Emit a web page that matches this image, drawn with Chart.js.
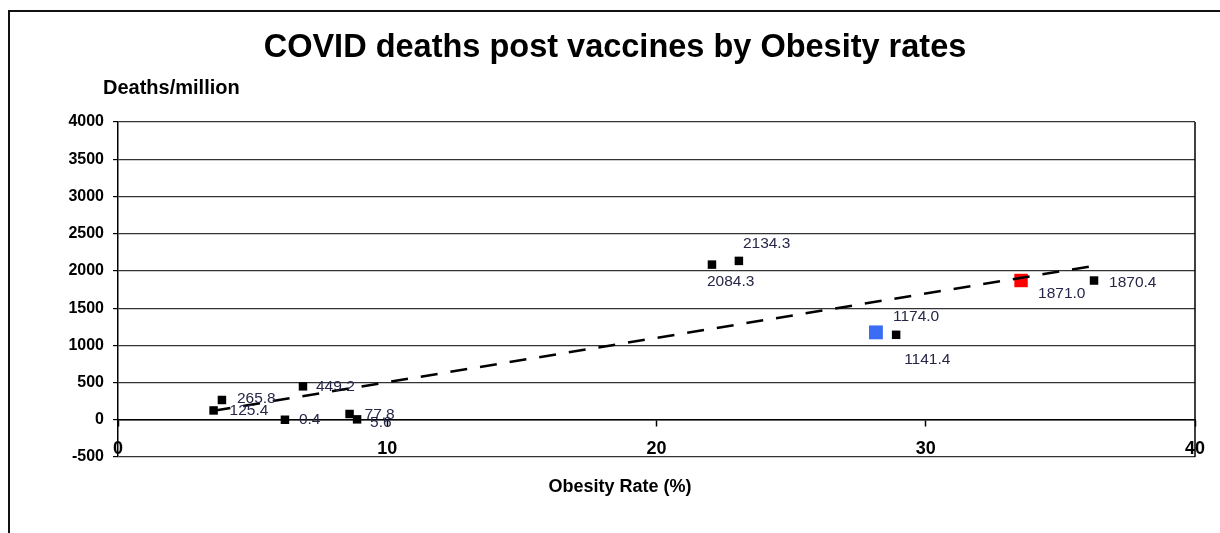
<!DOCTYPE html>
<html>
<head>
<meta charset="utf-8">
<script src="https://cdn.jsdelivr.net/npm/chart.js@4.4.1/dist/chart.umd.min.js"></script>
<style>
  html, body { margin: 0; padding: 0; background: #fff; }
  #c { display: block; }
</style>
</head>
<body>
<canvas id="c" width="1220" height="533" style="width:1220px;height:533px"></canvas>
<script>
// ---- data ----
const obesityRates = [3.55, 3.86, 6.2, 6.87, 8.6, 8.88, 22.06, 23.06, 28.9, 36.25];
const deathsPerMillion = [125.4, 265.8, 0.4, 449.2, 77.8, 5.6, 2084.3, 2134.3, 1141.4, 1870.4];
const blueObesity = [28.15];
const blueDeaths = [1174.0];
const redObesity = [33.54];
const redDeaths = [1871.0];
const trendObesity = [3.55, 36.25];
const trendDeaths = [120, 2068];
const xTickValues = [0, 10, 20, 30, 40];
const yTickValues = [-500, 0, 500, 1000, 1500, 2000, 2500, 3000, 3500, 4000];

const titleText = 'COVID deaths post vaccines by Obesity rates';
const yTitleText = 'Deaths/million';
const xTitleText = 'Obesity Rate (%)';

// label placement (style, kept apart from the data)
const mainLabelOffsets = [[16,0],[15,-1],[14,0],[13,0],[15,1],[13,3],[-5,17],[4,-17],[8,25],[15,2]];
const blueLabelOffsets = [[17,-16]];
const redLabelOffsets = [[17,13]];

const FONT = '"Liberation Sans", Arial, sans-serif';

const toPts = (xs, ys) => xs.map((x, i) => ({ x: x, y: ys[i] }));

const framePlugin = {
  id: 'frame',
  beforeDraw(chart) {
    const ctx = chart.ctx;
    ctx.save();
    ctx.fillStyle = '#fff';
    ctx.fillRect(0, 0, chart.width, chart.height);
    ctx.strokeStyle = '#111';
    ctx.lineWidth = 2;
    ctx.beginPath();
    ctx.moveTo(9, chart.height);
    ctx.lineTo(9, 11);
    ctx.lineTo(chart.width, 11);
    ctx.stroke();
    ctx.restore();
  },
  afterDraw(chart) {
    const ctx = chart.ctx;
    const a = chart.chartArea;
    ctx.save();
    ctx.strokeStyle = '#000';
    ctx.lineWidth = 1.5;
    ctx.beginPath();
    ctx.moveTo(a.right, a.top);
    ctx.lineTo(a.right, a.bottom);
    ctx.stroke();
    ctx.fillStyle = '#000';
    ctx.textBaseline = 'middle';
    ctx.textAlign = 'center';
    ctx.font = 'bold 32.5px ' + FONT;
    ctx.fillText(titleText, 615, 48);
    ctx.textAlign = 'left';
    ctx.font = 'bold 20px ' + FONT;
    ctx.fillText(yTitleText, 103, 88);
    ctx.textAlign = 'center';
    ctx.font = 'bold 18px ' + FONT;
    ctx.fillText(xTitleText, 620, 487);
    ctx.restore();
  }
};

const labelPlugin = {
  id: 'pointLabels',
  afterDatasetsDraw(chart) {
    const ctx = chart.ctx;
    ctx.save();
    ctx.font = '15.5px ' + FONT;
    ctx.fillStyle = '#262648';
    ctx.textAlign = 'left';
    ctx.textBaseline = 'middle';
    chart.data.datasets.forEach((ds, di) => {
      if (!ds.labelOffsets) return;
      const meta = chart.getDatasetMeta(di);
      meta.data.forEach((el, i) => {
        const off = ds.labelOffsets[i] || [14, 0];
        ctx.fillText(ds.data[i].y.toFixed(1), el.x + off[0], el.y + off[1]);
      });
    });
    ctx.restore();
  }
};

new Chart(document.getElementById('c'), {
  type: 'scatter',
  data: {
    datasets: [
      {
        type: 'line',
        data: toPts(trendObesity, trendDeaths),
        borderColor: '#000',
        borderWidth: 2.5,
        borderDash: [17, 13],
        pointRadius: 0,
        fill: false,
        order: 0
      },
      {
        data: toPts(obesityRates, deathsPerMillion),
        pointStyle: 'rect',
        pointRadius: 6,
        backgroundColor: '#000',
        borderColor: '#000',
        borderWidth: 0,
        labelOffsets: mainLabelOffsets,
        order: 2
      },
      {
        data: toPts(blueObesity, blueDeaths),
        pointStyle: 'rect',
        pointRadius: 9.8,
        backgroundColor: '#3b6cf5',
        borderColor: '#3b6cf5',
        borderWidth: 0,
        labelOffsets: blueLabelOffsets,
        order: 1
      },
      {
        data: toPts(redObesity, redDeaths),
        pointStyle: 'rect',
        pointRadius: 9.5,
        backgroundColor: '#ff0000',
        borderColor: '#ff0000',
        borderWidth: 0,
        labelOffsets: redLabelOffsets,
        order: 1
      }
    ]
  },
  options: {
    responsive: false,
    animation: false,
    devicePixelRatio: 1,
    layout: { padding: { left: 0, top: 122, right: 25, bottom: 76 } },
    plugins: { legend: { display: false }, tooltip: { enabled: false }, title: { display: false } },
    scales: {
      x: {
        type: 'linear',
        position: { y: 0 },
        min: 0,
        max: 40,
        afterBuildTicks: (s) => { s.ticks = xTickValues.map(v => ({ value: v })); },
        grid: { drawOnChartArea: false, drawTicks: true, tickLength: 6, tickColor: '#000', tickWidth: 1.5 },
        border: { color: '#000', width: 1.5 },
        ticks: {
          color: '#000',
          font: { family: FONT, size: 18, weight: 'bold' },
          padding: 12,
          maxRotation: 0,
          autoSkip: false,
          callback: (v) => String(v)
        }
      },
      y: {
        type: 'linear',
        min: -500,
        max: 4000,
        afterBuildTicks: (s) => { s.ticks = yTickValues.map(v => ({ value: v })); },
        afterFit: (s) => { s.width = 118; },
        grid: { color: '#333', lineWidth: 1.2, tickLength: 5, tickColor: '#000' },
        border: { color: '#000', width: 1.5 },
        ticks: {
          color: '#000',
          font: { family: FONT, size: 16, weight: 'bold' },
          padding: 9,
          autoSkip: false,
          callback: (v) => String(v)
        }
      }
    }
  },
  plugins: [framePlugin, labelPlugin]
});
</script>
</body>
</html>
